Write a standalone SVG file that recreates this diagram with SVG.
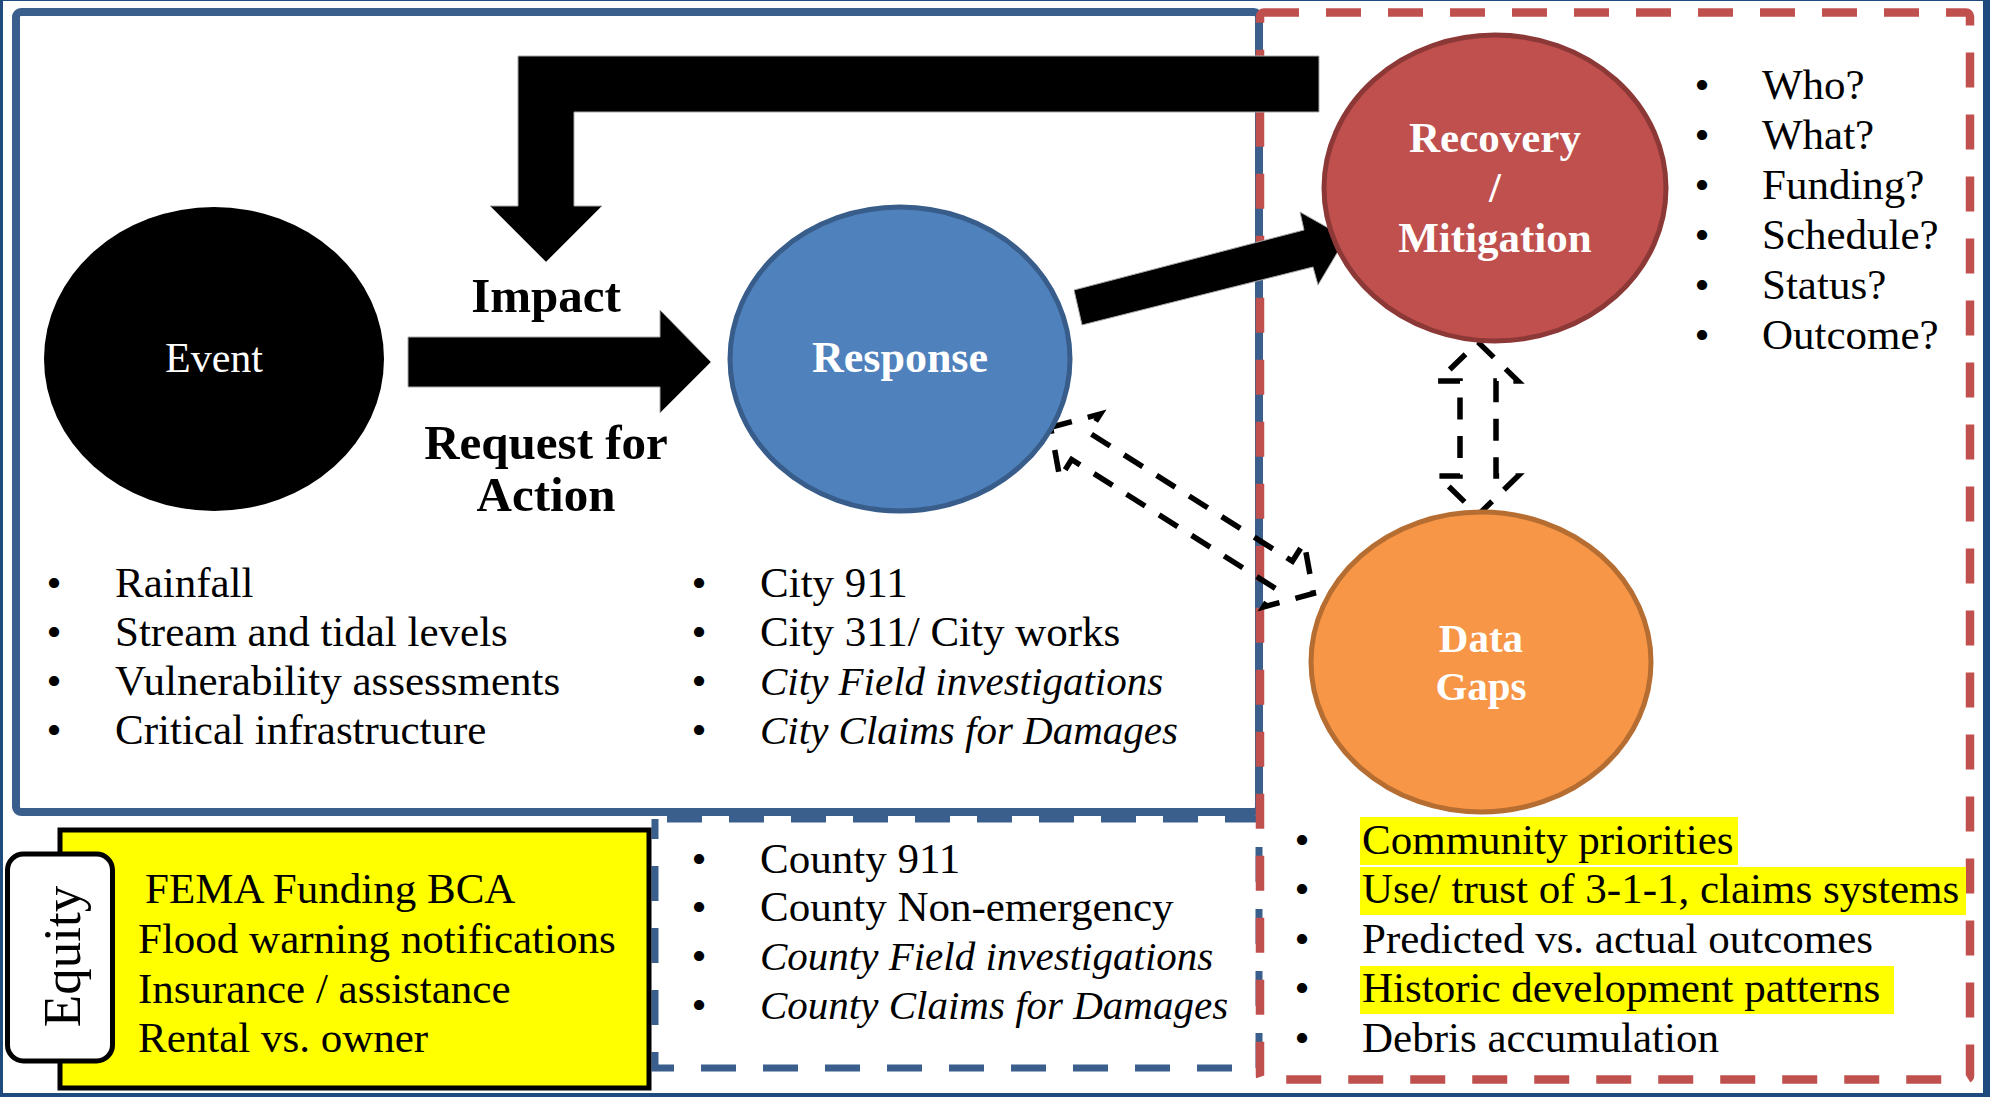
<svg xmlns="http://www.w3.org/2000/svg" width="1990" height="1097" viewBox="0 0 1990 1097">
<defs>
<style>
text{font-family:"Liberation Serif","Times New Roman",serif;fill:#000}
.t{font-size:43px}
.bu{font-size:43px;text-anchor:middle}
.i{font-style:italic;font-size:41px}
.lbl{font-weight:bold;fill:#fff;text-anchor:middle}
.big{font-weight:bold;font-size:49px;text-anchor:middle}
.blk{fill:#000;stroke:#a8a8a8;stroke-width:1}
.dash{fill:none;stroke:#000;stroke-width:5.5;stroke-dasharray:22 16.5;stroke-linejoin:miter;stroke-miterlimit:10}
.hl{fill:#ffff00}
</style>
</defs>
<g id="frame">
<rect width="1990" height="1097" fill="#1F4A7E"/>
<rect x="3" y="1" width="1980" height="1092" fill="#fff"/>
<rect x="16" y="12" width="1243" height="800" rx="5" fill="none" stroke="#3A5F8D" stroke-width="8"/>
<rect x="655" y="819" width="604" height="249" fill="none" stroke="#3A5F8D" stroke-width="7" stroke-dasharray="35 27" stroke-dashoffset="50"/>
<rect x="1260" y="12.5" width="710" height="1067" rx="4" fill="none" stroke="#C0504D" stroke-width="8.5" stroke-dasharray="35 27"/>
</g>
<g id="connectors">
<polygon class="blk" points="1074,290 1304,230 1300,212 1346,238 1318,285 1313,267 1082,325"/>
<polygon class="blk" points="1319,56 518,56 518,206 490,206 546,262 602,206 574,206 574,112 1319,112"/>
<polygon class="blk" points="408,337 660,337 660,310 711,362 660,413 660,387 408,387"/>
<path class="dash" transform="translate(1182,510.4) rotate(32.3)" d="M-155.5,0 L-120.5,-38 L-120.5,-16 L120.5,-16 L120.5,-38 L155.5,0 L120.5,38 L120.5,16 L-120.5,16 L-120.5,38 Z"/>
<path class="dash" d="M1478,342 L1518,381 L1496,381 L1496,476 L1518,476 L1478,515 L1438,476 L1460,476 L1460,381 L1438,381 Z"/>
</g>
<g id="event">
<ellipse cx="214" cy="359" rx="170" ry="152" fill="#000"/>
<text x="214" y="372" font-size="42" text-anchor="middle" style="fill:#fff">Event</text>
</g>
<g id="response">
<ellipse cx="900" cy="359" rx="170" ry="152" fill="#4F81BD" stroke="#385D8A" stroke-width="5"/>
<text class="lbl" x="900" y="372" font-size="44" style="fill:#fff">Response</text>
</g>
<g id="recovery">
<ellipse cx="1495" cy="188" rx="171" ry="153" fill="#C0504D" stroke="#8C3836" stroke-width="5"/>
<text class="lbl" x="1495" y="152" font-size="43" style="fill:#fff">Recovery</text>
<text class="lbl" x="1495" y="202" font-size="43" style="fill:#fff">/</text>
<text class="lbl" x="1495" y="252" font-size="43" style="fill:#fff">Mitigation</text>
</g>
<g id="datagaps">
<ellipse cx="1481" cy="662" rx="170" ry="150" fill="#F79646" stroke="#B66D31" stroke-width="5"/>
<text class="lbl" x="1481" y="652" font-size="41" style="fill:#fff">Data</text>
<text class="lbl" x="1481" y="700" font-size="41" style="fill:#fff">Gaps</text>
</g>
<g id="impact-label">
<text class="big" x="546" y="312">Impact</text>
<text class="big" x="546" y="459">Request for</text>
<text class="big" x="546" y="511">Action</text>
</g>
<g id="event-list">
<text class="bu" x="54" y="597">•</text><text class="t" x="115" y="597">Rainfall</text>
<text class="bu" x="54" y="646">•</text><text class="t" x="115" y="646">Stream and tidal levels</text>
<text class="bu" x="54" y="695">•</text><text class="t" x="115" y="695">Vulnerability assessments</text>
<text class="bu" x="54" y="744">•</text><text class="t" x="115" y="744">Critical infrastructure</text>
</g>
<g id="city-list">
<text class="bu" x="699" y="597">•</text><text class="t" x="760" y="597">City 911</text>
<text class="bu" x="699" y="646">•</text><text class="t" x="760" y="646">City 311/ City works</text>
<text class="bu" x="699" y="695">•</text><text class="i" x="760" y="695">City Field investigations</text>
<text class="bu" x="699" y="744">•</text><text class="i" x="760" y="744">City Claims for Damages</text>
</g>
<g id="county-list">
<text class="bu" x="699" y="873">•</text><text class="t" x="760" y="873">County 911</text>
<text class="bu" x="699" y="921">•</text><text class="t" x="760" y="921">County Non-emergency</text>
<text class="bu" x="699" y="970">•</text><text class="i" x="760" y="970">County Field investigations</text>
<text class="bu" x="699" y="1019">•</text><text class="i" x="760" y="1019">County Claims for Damages</text>
</g>
<g id="questions-list">
<text class="bu" x="1702" y="99">•</text><text class="t" x="1762" y="99">Who?</text>
<text class="bu" x="1702" y="149">•</text><text class="t" x="1762" y="149">What?</text>
<text class="bu" x="1702" y="199">•</text><text class="t" x="1762" y="199">Funding?</text>
<text class="bu" x="1702" y="249">•</text><text class="t" x="1762" y="249">Schedule?</text>
<text class="bu" x="1702" y="299">•</text><text class="t" x="1762" y="299">Status?</text>
<text class="bu" x="1702" y="349">•</text><text class="t" x="1762" y="349">Outcome?</text>
</g>
<g id="gaps-list">
<rect class="hl" x="1360" y="817" width="378" height="48"/>
<rect class="hl" x="1360" y="867" width="606" height="48"/>
<rect class="hl" x="1360" y="966" width="534" height="48"/>
<text class="bu" x="1302" y="854">•</text><text class="t" x="1362" y="854">Community priorities</text>
<text class="bu" x="1302" y="903">•</text><text class="t" x="1362" y="903">Use/ trust of 3-1-1, claims systems</text>
<text class="bu" x="1302" y="953">•</text><text class="t" x="1362" y="953">Predicted vs. actual outcomes</text>
<text class="bu" x="1302" y="1002">•</text><text class="t" x="1362" y="1002">Historic development patterns</text>
<text class="bu" x="1302" y="1052">•</text><text class="t" x="1362" y="1052">Debris accumulation</text>
</g>
<g id="equity-box">
<rect x="60" y="830" width="589" height="258" fill="#FFFF00" stroke="#000" stroke-width="5"/>
<text class="t" x="145" y="903">FEMA Funding BCA</text>
<text class="t" x="138" y="953">Flood warning notifications</text>
<text class="t" x="138" y="1003">Insurance / assistance</text>
<text class="t" x="138" y="1052">Rental vs. owner</text>
</g>
<g id="equity-label">
<rect x="7.5" y="854" width="105" height="207" rx="16" fill="#fff" stroke="#000" stroke-width="5"/>
<text transform="translate(80,956.5) rotate(-90)" text-anchor="middle" font-size="53">Equity</text>
</g>
</svg>
